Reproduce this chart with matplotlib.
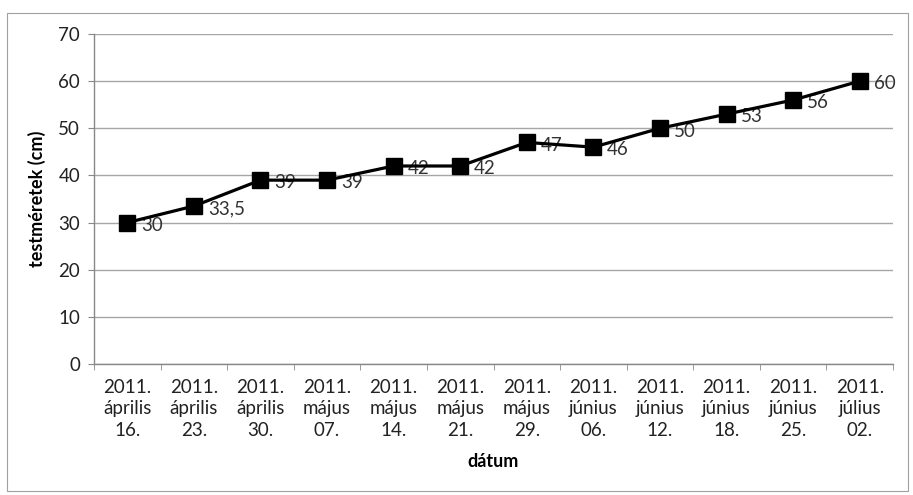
import matplotlib
matplotlib.use("Agg")
import matplotlib.pyplot as plt
from matplotlib.patches import Rectangle

plt.rcParams['font.family'] = ['Lato', 'DejaVu Sans']

dates = ["2011.\náprilis\n16.", "2011.\náprilis\n23.", "2011.\náprilis\n30.",
         "2011.\nmájus\n07.", "2011.\nmájus\n14.", "2011.\nmájus\n21.",
         "2011.\nmájus\n29.", "2011.\njúnius\n06.", "2011.\njúnius\n12.",
         "2011.\njúnius\n18.", "2011.\njúnius\n25.", "2011.\njúlius\n02."]
sizes = [30, 33.5, 39, 39, 42, 42, 47, 46, 50, 53, 56, 60]
value_labels = ["30", "33,5", "39", "39", "42", "42", "47", "46", "50", "53", "56", "60"]
y_ticks = [0, 10, 20, 30, 40, 50, 60, 70]

fig = plt.figure(figsize=(9.13, 4.95), dpi=100)
fig.patches.append(Rectangle((7/913, 1-491/495), (908-7)/913, (491-13)/495,
                             transform=fig.transFigure, fill=False,
                             edgecolor='#a0a0a0', linewidth=0.8))
ax = fig.add_axes([94/913, 1-364/495, (893-94)/913, (364-34)/495])

x = list(range(len(sizes)))
ax.plot(x, sizes, color='black', linewidth=2.3, marker='s', markersize=11,
        markerfacecolor='black', markeredgecolor='black', zorder=3)
for xi, yi, lab in zip(x, sizes, value_labels):
    ax.annotate(lab, (xi, yi), xytext=(10, -2), textcoords='offset points',
                ha='left', va='center', fontsize=13.5, color='#333333', zorder=2)

ax.set_xlim(-0.5, len(sizes) - 0.5)
ax.set_ylim(0, 70)
ax.set_yticks(y_ticks)
ax.tick_params(axis='y', labelsize=13.5, length=4, color='#888888', labelcolor='#222222', pad=6)
ax.set_xticks(x)
ax.set_xticklabels(dates, fontsize=13.5, color='#222222', linespacing=1.3)
ax.tick_params(axis='x', length=0, pad=11)
ax.set_xticks([i - 0.5 for i in range(len(sizes) + 1)], minor=True)
ax.tick_params(axis='x', which='minor', length=4, color='#888888')

ax.grid(axis='y', color='#a6a6a6', linewidth=1)
ax.set_axisbelow(True)
for s in ['top', 'right']:
    ax.spines[s].set_visible(False)
for s in ['left', 'bottom']:
    ax.spines[s].set_color('#888888')
    ax.spines[s].set_linewidth(1)

ax.set_ylabel("testméretek (cm)", fontsize=13, fontweight='bold', labelpad=9)
ax.set_xlabel("dátum", fontsize=13, fontweight='bold', labelpad=10)

fig.savefig("out.png", dpi=100)
